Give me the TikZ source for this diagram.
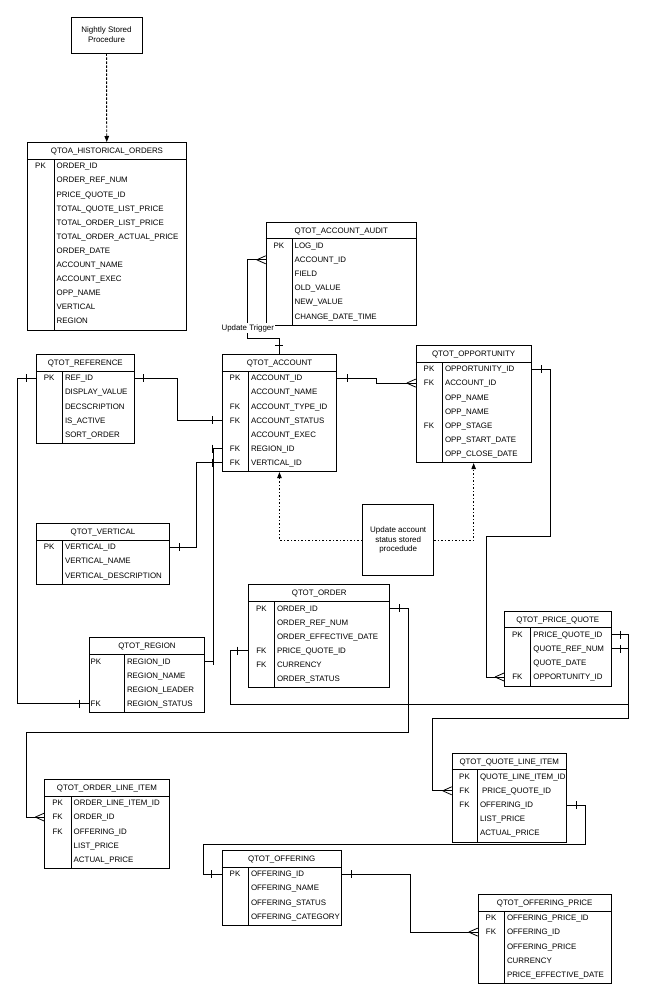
\documentclass[tikz,border=0pt]{standalone}
\usepackage{fontspec}
\setmainfont{Liberation Sans}
\usetikzlibrary{arrows.meta}
\tikzset{
  tbl/.style={draw, line width=0.9pt, inner sep=0pt, rectangle},
  cell/.style={inner sep=0pt, font=\fontsize{7.9}{9}\selectfont, text height=5.66pt, text depth=0pt},
  keyc/.style={cell, anchor=center},
  keyl/.style={cell, anchor=west},
  conn/.style={line width=0.8pt},
  proc/.style={draw, line width=0.9pt, align=center, font=\fontsize{8}{9.8}\selectfont, inner sep=0pt},
  dashedarrow/.style={line width=0.9pt, dash pattern=on 2.5pt off 1.5pt, -{Triangle[length=6pt,width=4.5pt]}},
  dotarrow/.style={line width=0.9pt, dash pattern=on 1.5pt off 2pt, -{Triangle[length=6pt,width=4.5pt]}},
}
% #1 id, #2 left, #3 top, #4 width, #5 key col width, #6 title, #7 key style, #8 rows
\newcommand\erd[8]{%
  \xdef\erdn{0}%
  \foreach \k/\n in {#8}{\xdef\erdn{\the\numexpr\erdn+1\relax}}%
  \pgfmathsetmacro\erdh{17+\erdn*14.1+1.5}%
  \node[tbl, minimum width=#4pt, minimum height=\erdh pt, anchor=north west] (#1) at (#2,#3) {};%
  \draw[line width=0.9pt] ([yshift=-17pt]#1.north west) -- ([yshift=-17pt]#1.north east);%
  \draw[line width=0.9pt] ([xshift=#5pt,yshift=-17pt]#1.north west) -- ([xshift=#5pt]#1.south west);%
  \node[cell, anchor=center] (#1-title) at ([yshift=-8.5pt]#1.north) {#6};%
  \foreach \k/\n [count=\i] in {#8}{%
    \coordinate (#1-L\i) at ([yshift={-(24+(\i-1)*14.1)}]#1.north west);%
    \coordinate (#1-R\i) at ([yshift={-(24+(\i-1)*14.1)}]#1.north east);%
    \node[#7] (#1-k\i) at (#1-L\i) {\k};%
    \node[cell, anchor=west] (#1-n\i) at ([xshift=#5pt+2.5pt]#1-L\i) {\n};%
  }%
}
\newcommand\barv[2]{\draw[conn] ([xshift=#2pt]#1) ++(0,-4) -- ++(0,8);}
\newcommand\crow[1]{\draw[conn] ([xshift=-9pt]#1) -- ++(9,-4) ([xshift=-9pt]#1) -- ++(9,4);}
\begin{document}
\begin{tikzpicture}[x=1pt,y=-1pt]
\fill[white] (0,0) rectangle (646,1000);
\useasboundingbox (0,0) rectangle (646,1000);

\erd{hist}{27}{142}{159}{27}{QTOA\_HISTORICAL\_ORDERS}{keyc,xshift=13.5pt}{PK/ORDER\_ID,/ORDER\_REF\_NUM,/PRICE\_QUOTE\_ID,/TOTAL\_QUOTE\_LIST\_PRICE,/TOTAL\_ORDER\_LIST\_PRICE,/TOTAL\_ORDER\_ACTUAL\_PRICE,/ORDER\_DATE,/ACCOUNT\_NAME,/ACCOUNT\_EXEC,/OPP\_NAME,/VERTICAL,/REGION}
\erd{audit}{265.7}{221.7}{150.3}{26.3}{QTOT\_ACCOUNT\_AUDIT}{keyc,xshift=13.2pt}{PK/LOG\_ID,/ACCOUNT\_ID,/FIELD,/OLD\_VALUE,/NEW\_VALUE,/CHANGE\_DATE\_TIME}
\erd{acc}{221.7}{354}{114.6}{26.6}{QTOT\_ACCOUNT}{keyc,xshift=13.3pt}{PK/ACCOUNT\_ID,/ACCOUNT\_NAME,FK/ACCOUNT\_TYPE\_ID,FK/ACCOUNT\_STATUS,/ACCOUNT\_EXEC,FK/REGION\_ID,FK/VERTICAL\_ID}
\erd{opp}{415.7}{345}{115}{26.6}{QTOT\_OPPORTUNITY}{keyc,xshift=13.3pt}{PK/OPPORTUNITY\_ID,FK/ACCOUNT\_ID,/OPP\_NAME,/OPP\_NAME,FK/OPP\_STAGE,/OPP\_START\_DATE,/OPP\_CLOSE\_DATE}
\erd{ref}{36}{354}{97.7}{26.3}{QTOT\_REFERENCE}{keyc,xshift=13.2pt}{PK/REF\_ID,/DISPLAY\_VALUE,/DECSCRIPTION,/IS\_ACTIVE,/SORT\_ORDER}
\erd{vert}{36}{523}{133}{26.3}{QTOT\_VERTICAL}{keyc,xshift=13.2pt}{PK/VERTICAL\_ID,/VERTICAL\_NAME,/VERTICAL\_DESCRIPTION}
\erd{region}{89}{637.3}{115}{35.3}{QTOT\_REGION}{keyl,xshift=1.5pt}{PK/REGION\_ID,/REGION\_NAME,/REGION\_LEADER,FK/REGION\_STATUS}
\erd{order}{248.3}{584.3}{141}{26}{QTOT\_ORDER}{keyc,xshift=13pt}{PK/ORDER\_ID,/ORDER\_REF\_NUM,/ORDER\_EFFECTIVE\_DATE,FK/PRICE\_QUOTE\_ID,FK/CURRENCY,/ORDER\_STATUS}
\erd{pq}{504}{610.7}{106.7}{26.7}{QTOT\_PRICE\_QUOTE}{keyc,xshift=13.3pt}{PK/PRICE\_QUOTE\_ID,/QUOTE\_REF\_NUM,/QUOTE\_DATE,FK/OPPORTUNITY\_ID}
\erd{oli}{44.3}{779}{124.4}{26.7}{QTOT\_ORDER\_LINE\_ITEM}{keyc,xshift=13.3pt}{PK/ORDER\_LINE\_ITEM\_ID,FK/ORDER\_ID,FK/OFFERING\_ID,/LIST\_PRICE,/ACTUAL\_PRICE}
\erd{qli}{451.7}{752.7}{114.3}{25.6}{QTOT\_QUOTE\_LINE\_ITEM}{keyc,xshift=12.8pt}{PK/QUOTE\_LINE\_ITEM\_ID,FK/\hspace{2.2pt}PRICE\_QUOTE\_ID,FK/OFFERING\_ID,/LIST\_PRICE,/ACTUAL\_PRICE}
\erd{off}{221.7}{850}{119}{26.6}{QTOT\_OFFERING}{keyc,xshift=13.3pt}{PK/OFFERING\_ID,/OFFERING\_NAME,/OFFERING\_STATUS,/OFFERING\_CATEGORY}
\erd{op}{477.7}{894}{133}{26.6}{QTOT\_OFFERING\_PRICE}{keyc,xshift=13.3pt}{PK/OFFERING\_PRICE\_ID,FK/OFFERING\_ID,/OFFERING\_PRICE,/CURRENCY,/PRICE\_EFFECTIVE\_DATE}

% procedures
\node[proc, minimum width=71pt, minimum height=36pt] (nightly) at (106.5,35) {Nightly Stored\\Procedure};
\node[proc, minimum width=71pt, minimum height=71.4pt] (upd) at (398.2,540) {Update account\\status stored\\procedude};
\draw[dashedarrow] (nightly) -- (hist);
\draw[dotarrow] (upd.west) -| (acc.south);
\draw[dotarrow] (upd.east) -| (opp.south);

% update trigger: account -> audit
\draw[conn] (acc.north) |- (247.7,338) |- (audit-L2);
\draw[conn] ([yshift=9pt]acc.north) ++(-4,0) -- ++(8,0);
\crow{audit-L2}
\node[fill=white, inner sep=1.2pt, font=\fontsize{7.9}{9}\selectfont] (trig) at (247.8,328.3) {Update Trigger};

% account -> opportunity
\draw[conn] (acc-R1) -- ++(39.4,0) |- (opp-L2);
\barv{acc-R1}{9.7}
\crow{opp-L2}

% reference -> account
\draw[conn] (ref-R1) -- ++(43,0) |- (acc-L4);
\barv{ref-R1}{9}
\barv{acc-L4}{-9}

% reference -> region
\draw[conn] (ref-L1) -- ++(-18.7,0) |- (region-L4);
\barv{ref-L1}{-10}
\barv{region-L4}{-10}

% vertical -> account
\draw[conn] (vert-R1) -- ++(26,0) |- (acc-L7);
\barv{vert-R1}{9}
\barv{acc-L7}{-9.4}

% region -> account
\draw[conn] (region-R1) -- ++(8.3,0) |- (acc-L6);
\barv{region-R1}{8.3}
\barv{acc-L6}{-9.4}

% opportunity -> price quote
\draw[conn] (opp-R1) -- ++(18.3,0) |- (486.7,536.7) |- (pq-L4);
\barv{opp-R1}{9.3}
\crow{pq-L4}

% price quote -> quote line item
\draw[conn] (pq-R1) -- ++(17,0) |- (432.7,718.3) |- (qli-L2);
\barv{pq-R1}{8.6}
\crow{qli-L2}

% price quote -> order
\draw[conn] (pq-R2) -- ++(17,0) |- (230.7,704.3) |- (order-L4);
\barv{pq-R2}{8.6}
\barv{order-L4}{-10.6}

% order -> order line item
\draw[conn] (order-R1) -- ++(18,0) |- (26.7,732.3) |- (oli-L2);
\barv{order-R1}{9}
\crow{oli-L2}

% quote line item -> offering
\draw[conn] (qli-R3) -- ++(18,0) |- (203.3,844.7) |- (off-L1);
\barv{qli-R3}{9.7}
\barv{off-L1}{-10}

% offering -> offering price
\draw[conn] (off-R1) -- ++(68.6,0) |- (op-L2);
\barv{off-R1}{10}
\crow{op-L2}
\end{tikzpicture}
\end{document}
